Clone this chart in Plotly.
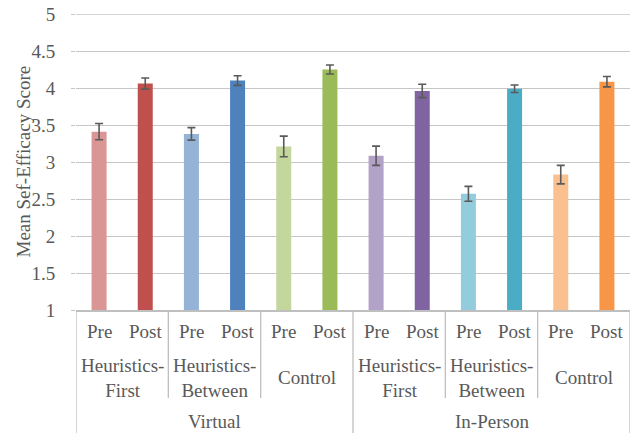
import plotly.graph_objects as go

# Mean self-efficacy scores (Pre / Post) by condition and delivery mode
phases = ["Pre", "Post"] * 6
conditions = ["Heuristics-<br>First", "Heuristics-<br>Between", "Control"] * 2
modes = ["Virtual", "In-Person"]
means = [3.41, 4.06, 3.38, 4.10, 3.21, 4.25, 3.085, 3.96, 2.57, 3.99, 2.83, 4.085]
errors = [0.11, 0.075, 0.085, 0.065, 0.14, 0.06, 0.13, 0.09, 0.10, 0.05, 0.125, 0.07]
colors = ["#D99694", "#C0504D", "#95B3D7", "#4F81BD", "#C3D69B", "#9BBB59",
          "#B3A2C7", "#8064A2", "#93CDDD", "#4BACC6", "#FAC090", "#F79646"]
y_ticks = [1, 1.5, 2, 2.5, 3, 3.5, 4, 4.5, 5]

FONT = "Liberation Serif"
TXT = "#595959"
LINE = "#BFBFBF"
GRID = "#C6C6C6"
FS = 19

plot_h = 433 - 14 - 123  # plot-area height in px, used to place labels below the axis
def below(px):
    return -px / plot_h

x = list(range(len(means)))

fig = go.Figure(go.Bar(
    x=x, y=means, width=0.325,
    marker=dict(color=colors, line=dict(width=0)),
    error_y=dict(type="data", array=errors, visible=True,
                 color="#5A5A5A", thickness=1.6, width=4),
))

annotations = []
shapes = []

# level 1: Pre / Post
for i, p in enumerate(phases):
    annotations.append(dict(x=i, y=below(21), xref="x", yref="paper", text=p,
                            showarrow=False, yanchor="middle",
                            font=dict(family=FONT, size=FS, color=TXT)))
# level 2: condition names
for g, c in enumerate(conditions):
    annotations.append(dict(x=2 * g + 0.5, y=below(67.5), xref="x", yref="paper", text=c,
                            showarrow=False, yanchor="middle",
                            font=dict(family=FONT, size=FS, color=TXT)))
# level 3: delivery mode
for m, name in enumerate(modes):
    annotations.append(dict(x=6 * m + 2.5, y=below(111.5), xref="x", yref="paper", text=name,
                            showarrow=False, yanchor="middle",
                            font=dict(family=FONT, size=FS, color=TXT)))

# y-axis title
annotations.append(dict(x=(22.5 - 76) / 554, y=0.5, xref="paper", yref="paper",
                        text="Mean Sef-Efficacy Score", textangle=-90, showarrow=False,
                        xanchor="center", yanchor="middle",
                        font=dict(family=FONT, size=FS, color=TXT)))

# gridline at the top of the value range (plotly skips it at the plot edge)
shapes.append(dict(type="line", xref="paper", yref="y", x0=0, x1=1,
                   y0=y_ticks[-1], y1=y_ticks[-1], line=dict(color=GRID, width=1.3)))

# separators of the category axis
for b in [-0.5, 5.5, 11.5]:
    shapes.append(dict(type="line", xref="x", yref="paper", x0=b, x1=b, y0=0, y1=below(125),
                       line=dict(color=LINE, width=1.3)))
for b in [1.5, 3.5, 7.5, 9.5]:
    shapes.append(dict(type="line", xref="x", yref="paper", x0=b, x1=b, y0=0, y1=below(88),
                       line=dict(color=LINE, width=1.3)))

fig.update_layout(
    width=633, height=433,
    margin=dict(l=76, r=3, t=14, b=123),
    paper_bgcolor="white", plot_bgcolor="white",
    showlegend=False,
    font=dict(family=FONT, color=TXT),
    annotations=annotations, shapes=shapes,
    xaxis=dict(range=[-0.5, 11.5], showticklabels=False, showgrid=False, zeroline=False,
               showline=True, linecolor=LINE, linewidth=1.5, ticks=""),
    yaxis=dict(range=[1, 5], tickvals=y_ticks, ticktext=[f"{v:g}" for v in y_ticks],
               showgrid=True, gridcolor=GRID, gridwidth=1.3, zeroline=False,
               showline=False, ticks="outside", ticklen=4, tickcolor=GRID,
               ticklabelstandoff=12,
               tickfont=dict(family=FONT, size=FS, color=TXT)),
)

fig.write_html("out.html")
